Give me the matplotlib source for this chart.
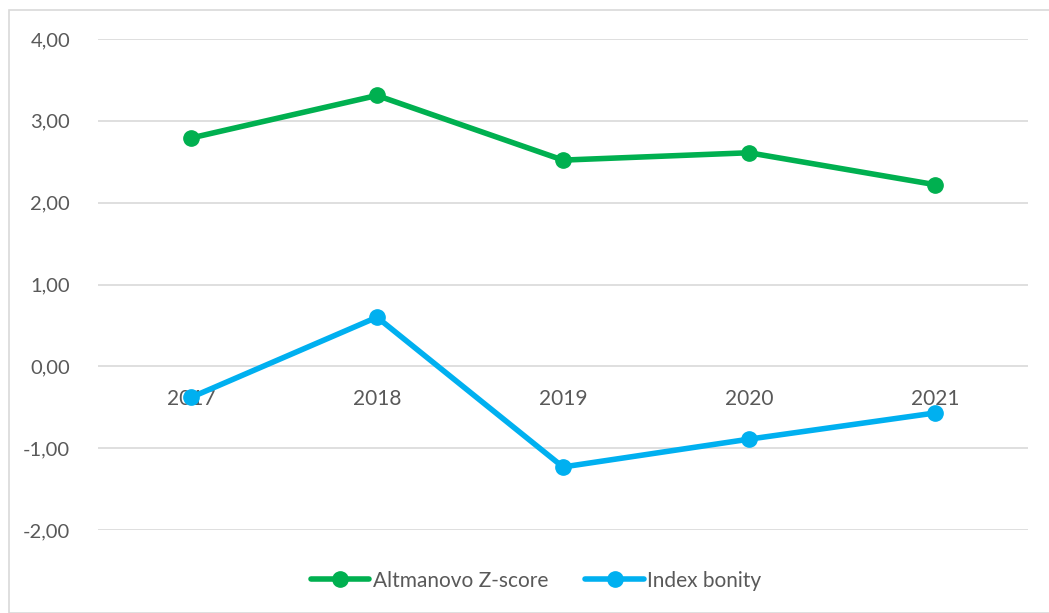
import matplotlib
matplotlib.use("Agg")
import matplotlib.pyplot as plt
from matplotlib.patches import Rectangle

years = ["2017", "2018", "2019", "2020", "2021"]
altman = [2.79, 3.31, 2.52, 2.61, 2.22]
bonita = [-0.38, 0.60, -1.23, -0.89, -0.57]
yticks = [-2, -1, 0, 1, 2, 3, 4]

plt.rcParams['font.family'] = ['Lato', 'DejaVu Sans']
txt = '#595959'
W, H = 1049, 613
fig = plt.figure(figsize=(W/100, H/100), dpi=100)
fig.patches.append(Rectangle((9/W, 0), 1.2, 1 - 10/H, transform=fig.transFigure,
                             fill=False, edgecolor='#d9d9d9', linewidth=1.2))
ax = fig.add_axes([98/W, 1 - 530/H, (1028-98)/W, (530-39)/H])
x = list(range(len(years)))
ax.plot(x, altman, color='#00B050', lw=4.0, marker='o', ms=11, label='Altmanovo Z-score',
        solid_capstyle='round', zorder=3)
ax.plot(x, bonita, color='#00B0F0', lw=4.0, marker='o', ms=11, label='Index bonity',
        solid_capstyle='round', zorder=3)
ax.set_xlim(-0.5, len(years) - 0.5)
ax.set_ylim(-2, 4)
ax.set_yticks(yticks)
ax.set_yticklabels([f"{v:.2f}".replace('.', ',') for v in yticks], color=txt, fontsize=14.5)
ax.grid(axis='y', color='#d9d9d9', lw=1.2, zorder=0)
ax.set_axisbelow(True)
for s in ['left', 'right', 'top']:
    ax.spines[s].set_visible(False)
ax.spines['bottom'].set_position(('data', 0))
ax.spines['bottom'].set_visible(False)
ax.set_xticks(x)
ax.set_xticklabels(years, color=txt, fontsize=15)
ax.tick_params(axis='x', length=0, pad=16)
ax.tick_params(axis='y', length=0, pad=20)
for lab in ax.get_xticklabels():
    lab.set_zorder(5)
leg = fig.legend(loc='center', bbox_to_anchor=(0.511, 0.053), ncol=2, frameon=False,
                 fontsize=15, handlelength=2.8, columnspacing=1.8, handletextpad=0.15,
                 labelcolor=txt)
plt.savefig('out.png', dpi=100)
